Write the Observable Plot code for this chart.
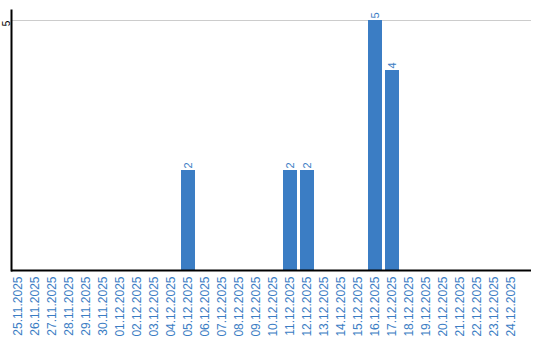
<!DOCTYPE html>
<html>
<head>
<meta charset="utf-8">
<script src="https://cdn.jsdelivr.net/npm/d3@7"></script>
<script src="https://cdn.jsdelivr.net/npm/@observablehq/plot@0.6"></script>
<style>
  html, body { margin: 0; padding: 0; background: #fff; }
  #chart svg { display: block; }
</style>
</head>
<body>
<div id="chart"></div>
<script>
const dates = ["25.11.2025","26.11.2025","27.11.2025","28.11.2025","29.11.2025","30.11.2025",
  "01.12.2025","02.12.2025","03.12.2025","04.12.2025","05.12.2025","06.12.2025","07.12.2025",
  "08.12.2025","09.12.2025","10.12.2025","11.12.2025","12.12.2025","13.12.2025","14.12.2025",
  "15.12.2025","16.12.2025","17.12.2025","18.12.2025","19.12.2025","20.12.2025","21.12.2025",
  "22.12.2025","23.12.2025","24.12.2025"];
const counts = [0,0,0,0,0,0,0,0,0,0,2,0,0,0,0,0,2,2,0,0,0,5,4,0,0,0,0,0,0,0];
const yTicks = [5];

const data = dates.map((d, i) => ({date: d, value: counts[i]}));
const nonZero = data.filter(d => d.value > 0);
const blue = "#3b7dc4";

const chart = Plot.plot({
  width: 540,
  height: 340,
  marginLeft: 11,
  marginRight: 9,
  marginTop: 10,
  marginBottom: 70,
  style: {fontFamily: "'Liberation Sans', Arial, sans-serif", background: "#fff"},
  x: {domain: dates, range: [11, 518], paddingInner: 3/17, paddingOuter: 0},
  y: {domain: [0, 5.2]},
  marks: [
    Plot.ruleY(yTicks, {stroke: "#cccccc", strokeWidth: 1}),
    Plot.barY(data, {x: "date", y: "value", fill: blue}),
    Plot.text(nonZero, {x: "date", y: "value", text: d => String(d.value), rotate: -90,
      textAnchor: "start", dy: -2, fill: blue, fontSize: 11}),
    Plot.ruleY([0], {stroke: "#000", strokeWidth: 2}),
    Plot.frame({anchor: "left", stroke: "#000", strokeWidth: 2}),
    Plot.axisY(yTicks, {tickSize: 0, tickRotate: -90, tickPadding: 2, tickFormat: d => String(d),
      dy: 3, fill: "#000", fontSize: 10, label: null}),
    Plot.axisX({tickSize: 0, tickRotate: -90, tickPadding: 6, fill: blue, fontSize: 12, label: null})
  ]
});
document.getElementById("chart").appendChild(chart);
</script>
</body>
</html>
